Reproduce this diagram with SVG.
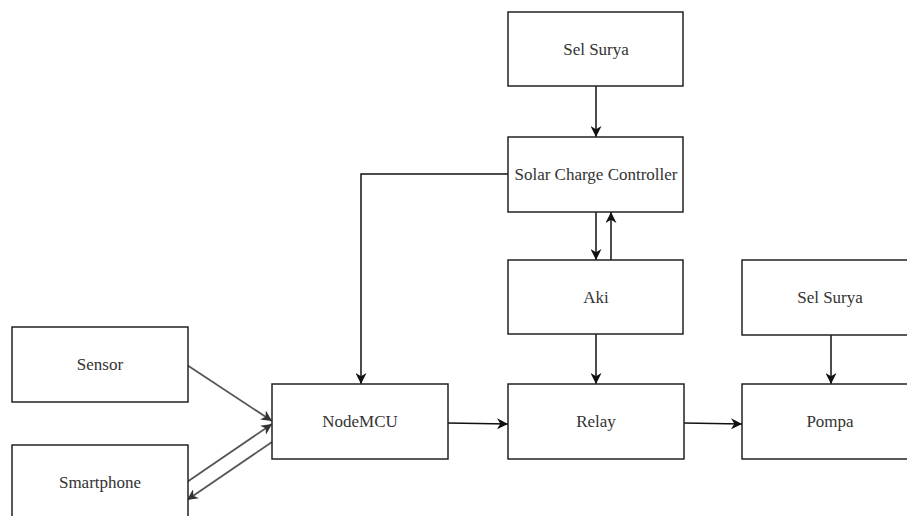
<svg xmlns="http://www.w3.org/2000/svg" width="907" height="516" viewBox="0 0 907 516">
<style>
.box{fill:#fff;stroke:#222;stroke-width:1.5}
.lbl{font-size:17px;fill:#333;text-anchor:middle;dominant-baseline:central}
.ln{fill:none;stroke:#111;stroke-width:1.5}
.lg{fill:none;stroke:#555;stroke-width:1.8}
</style>
<defs>
<marker id="ah" viewBox="0 0 10 10" refX="10" refY="5" markerWidth="11" markerHeight="11" markerUnits="userSpaceOnUse" orient="auto">
<path d="M0,0 L10,5 L0,10 L3,5 Z" fill="#111"/>
</marker>
<marker id="ahg" viewBox="0 0 10 10" refX="10" refY="5" markerWidth="11" markerHeight="11" markerUnits="userSpaceOnUse" orient="auto">
<path d="M0,0 L10,5 L0,10 L3,5 Z" fill="#333"/>
</marker>
</defs>
<rect width="907" height="516" fill="#fff"/>
<g id="connectors">
<line class="ln" x1="596" y1="86" x2="596" y2="137" marker-end="url(#ah)"/>
<line class="ln" x1="596" y1="212" x2="596" y2="260" marker-end="url(#ah)"/>
<line class="ln" x1="611" y1="260" x2="611" y2="212" marker-end="url(#ah)"/>
<polyline class="ln" points="508,174 361,174 361,384" marker-end="url(#ah)"/>
<line class="ln" x1="596" y1="334" x2="596" y2="384" marker-end="url(#ah)"/>
<line class="ln" x1="831" y1="335" x2="831" y2="384" marker-end="url(#ah)"/>
<line class="ln" x1="448" y1="423" x2="508" y2="424" marker-end="url(#ah)"/>
<line class="ln" x1="684" y1="423" x2="742" y2="424" marker-end="url(#ah)"/>
<line class="lg" x1="187" y1="365" x2="272" y2="421" marker-end="url(#ahg)"/>
<line class="lg" x1="187" y1="482" x2="272" y2="424" marker-end="url(#ahg)"/>
<line class="lg" x1="272" y1="442" x2="187" y2="500" marker-end="url(#ahg)"/>
</g>
<g font-family="Liberation Serif, DejaVu Serif, Times New Roman, serif">
<g id="sel-surya-1"><rect class="box" x="508" y="12" width="175" height="74"/><text class="lbl" x="596" y="49">Sel Surya</text></g>
<g id="scc"><rect class="box" x="508" y="137" width="175" height="75"/><text class="lbl" x="596" y="174">Solar Charge Controller</text></g>
<g id="aki"><rect class="box" x="508" y="260" width="175" height="74"/><text class="lbl" x="596" y="297">Aki</text></g>
<g id="sel-surya-2"><rect class="box" x="742" y="260" width="176" height="75"/><text class="lbl" x="830" y="297">Sel Surya</text></g>
<g id="sensor"><rect class="box" x="12" y="327" width="176" height="75"/><text class="lbl" x="100" y="364">Sensor</text></g>
<g id="nodemcu"><rect class="box" x="272" y="384" width="176" height="75"/><text class="lbl" x="360" y="421">NodeMCU</text></g>
<g id="relay"><rect class="box" x="508" y="384" width="176" height="75"/><text class="lbl" x="596" y="421">Relay</text></g>
<g id="pompa"><rect class="box" x="742" y="384" width="176" height="75"/><text class="lbl" x="830" y="421">Pompa</text></g>
<g id="smartphone"><rect class="box" x="12" y="445" width="176" height="75"/><text class="lbl" x="100" y="482">Smartphone</text></g>
</g>
</svg>
